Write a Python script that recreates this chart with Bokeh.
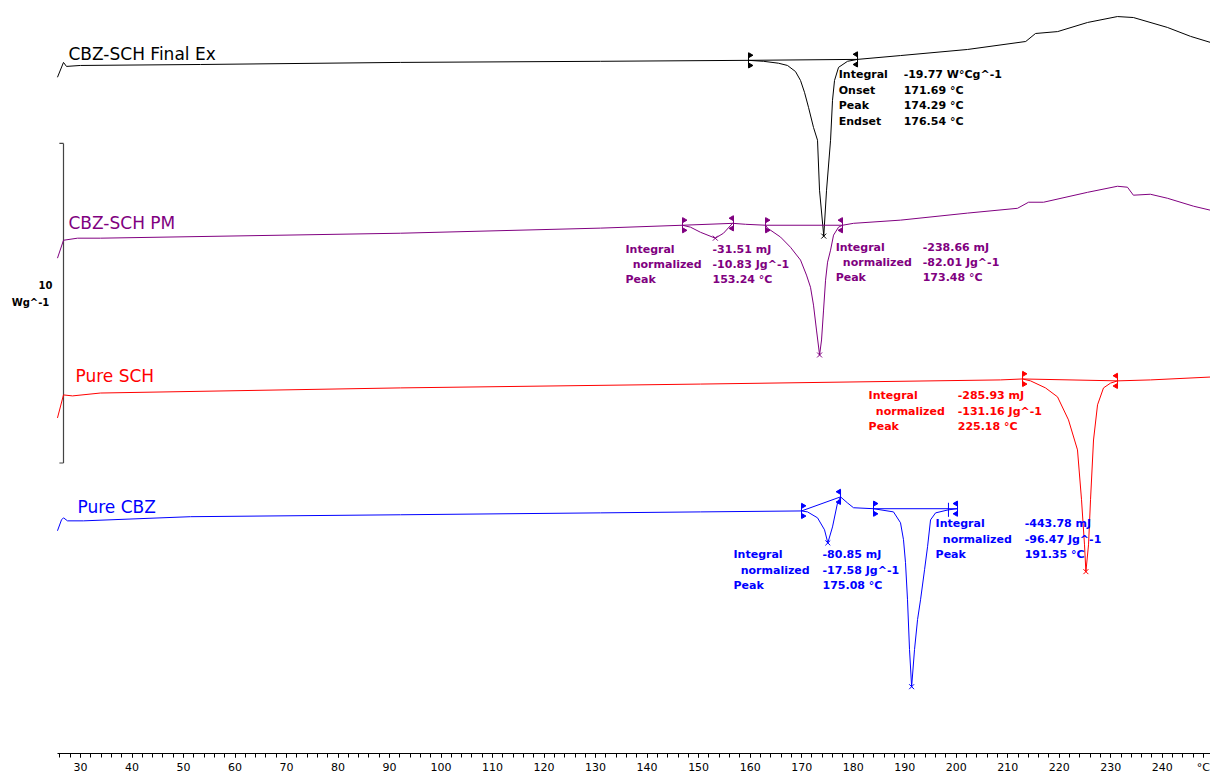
import math

from bokeh.core.properties import value
from bokeh.embed import file_html
from bokeh.models import FixedTicker, Range1d
from bokeh.plotting import figure
from bokeh.resources import INLINE

# ---------------------------------------------------------------------------
# DSC thermograms, stacked with vertical offsets (heat flow in W/g, exo up)
# ---------------------------------------------------------------------------
final_ex_temp = [25.53, 26.70, 27.28, 30.0, 53.3, 92.12, 130.95, 159.68, 162.6,
                 165.5, 167.25, 168.8, 169.78, 170.55, 171.33, 172.3, 173.08,
                 173.47, 174.29, 174.83, 175.61, 175.99, 176.38, 177.16, 178.9,
                 180.85, 189.2, 202.2, 213.5, 215.4, 219.7, 225.5, 231.3, 234.4,
                 241.0, 245.5, 249.37]
final_ex_flow = [21.16, 21.625, 21.5, 21.53, 21.56, 21.625, 21.66, 21.69, 21.66,
                 21.6, 21.53, 21.34, 21.06, 20.69, 20.22, 19.59, 19.19,
                 17.625, 16.19, 17.625, 19.19, 20.44, 21.06, 21.47, 21.66,
                 21.72, 21.84, 22.03, 22.28, 22.53, 22.59, 22.875, 23.06, 23.03,
                 22.72, 22.44, 22.25]

pm_temp = [25.53, 26.70, 29.42, 33.88, 92.12, 130.95, 146.87, 148.42, 150.36,
           153.24, 154.83, 156.58, 159.1, 162.99, 163.37, 165.9, 167.84, 169.78,
           170.94, 171.72, 172.3, 172.88, 173.48, 173.86, 174.25, 174.64, 175.03,
           175.61, 176.19, 177.16, 177.93, 180.07, 189.2, 202.2, 211.9, 214.05,
           216.96, 225.5, 231.3, 233.25, 234.4, 237.7, 241.0, 246.1, 249.37]
pm_flow = [15.5, 16.06, 16.125, 16.125, 16.28, 16.44, 16.53, 16.47, 16.31,
           16.125, 16.28, 16.59, 16.56, 16.53, 16.44, 16.16, 15.84, 15.44,
           14.97, 14.59, 14.03, 13.25, 12.47, 12.94, 13.875, 14.81, 15.375,
           15.75, 16.22, 16.47, 16.53, 16.59, 16.69, 16.91, 17.06, 17.25,
           17.25, 17.56, 17.75, 17.72, 17.47, 17.5, 17.375, 17.125, 17.0]

sch_temp = [25.53, 26.70, 28.45, 33.88, 92.12, 150.36, 208.6, 212.88, 214.43,
            217.34, 219.67, 221.8, 223.55, 224.33, 224.91, 225.18, 225.69,
            226.08, 226.66, 227.44, 228.6, 229.96, 231.32, 237.73, 249.37]
sch_flow = [10.5, 11.22, 11.19, 11.28, 11.44, 11.56, 11.69, 11.72, 11.66,
            11.44, 11.16, 10.44, 9.5, 7.94, 6.53, 5.69, 6.53,
            7.94, 9.81, 10.91, 11.44, 11.59, 11.66, 11.69, 11.78]

cbz_temp = [25.53, 26.31, 26.70, 27.48, 30.58, 51.36, 92.12, 130.95, 150.36,
            169.97, 171.14, 173.08, 174.44, 175.08, 175.99, 176.96, 177.55,
            178.9, 180.07, 183.95, 187.83, 189.19, 189.77, 190.16, 190.55,
            190.94, 191.35, 191.91, 192.5, 193.08, 193.86, 194.44, 195.02,
            196.0, 198.5, 200.26]
cbz_flow = [6.97, 7.31, 7.375, 7.28, 7.28, 7.41, 7.47, 7.53, 7.56,
            7.59, 7.56, 7.375, 7.0, 6.59, 7.09, 7.84, 8.03,
            7.84, 7.69, 7.66, 7.56, 7.22, 6.69, 5.97, 4.81,
            3.25, 2.09, 3.25, 4.19, 4.81, 5.75, 6.47, 7.31,
            7.53, 7.625, 7.66]

# curve names
names = ["CBZ-SCH Final Ex", "CBZ-SCH PM", "Pure SCH", "Pure CBZ"]
colors = ["#000000", "#800080", "#ff0000", "#0000ff"]

# integration limits (temperature, flow) per evaluated peak
final_ex_limits = [(159.68, 21.69), (180.85, 21.72)]
pm_limits_a = [(146.87, 16.53), (156.77, 16.59)]
pm_limits_b = [(162.99, 16.53), (177.93, 16.53)]
sch_limits = [(212.88, 11.72), (231.32, 11.66)]
cbz_limits_a = [(169.97, 7.59), (177.55, 8.03)]
cbz_limits_b = [(183.95, 7.66), (198.5, 7.625)]

# peak positions (temperature, flow)
final_ex_peak = (174.29, 16.19)
pm_peaks = [(153.24, 16.125), (173.48, 12.47)]
sch_peak = (225.18, 5.69)
cbz_peaks = [(175.08, 6.59), (191.35, 2.09)]

# evaluation results
final_ex_keys = ["Integral", "Onset", "Peak", "Endset"]
final_ex_vals = ["-19.77 W°Cg^-1", "171.69 °C", "174.29 °C", "176.54 °C"]
pm_vals_a = ["-31.51 mJ", "-10.83 Jg^-1", "153.24 °C"]
pm_vals_b = ["-238.66 mJ", "-82.01 Jg^-1", "173.48 °C"]
sch_vals = ["-285.93 mJ", "-131.16 Jg^-1", "225.18 °C"]
cbz_vals_a = ["-80.85 mJ", "-17.58 Jg^-1", "175.08 °C"]
cbz_vals_b = ["-443.78 mJ", "-96.47 Jg^-1", "191.35 °C"]
eval_keys = ["Integral", "normalized", "Peak"]

# temperature axis: labelled every 10 °C, minor marks every 2 °C, unit at end
major_ticks = list(range(30, 250, 10)) + [248]
minor_ticks = list(range(26, 250, 2))
unit_tick = 248

T_MIN, T_MAX = 14.47, 249.37
T_AXIS_START = 25.53
Y_MIN, Y_MAX = 0.0, 23.5625

FONT = value("DejaVu Sans")

p = figure(width=1210, height=776, output_backend="svg", toolbar_location=None,
           x_range=Range1d(T_MIN, T_MAX), y_range=Range1d(Y_MIN, Y_MAX),
           min_border_left=0, min_border_right=0, min_border_top=0,
           min_border_bottom=22, y_axis_location=None)
p.outline_line_color = None
p.grid.visible = False
p.background_fill_color = "white"
p.border_fill_color = "white"

ax = p.xaxis[0]
ax.ticker = FixedTicker(ticks=major_ticks, minor_ticks=minor_ticks)
ax.bounds = (T_AXIS_START, T_MAX)
ax.major_label_overrides = {unit_tick: "°C"}
ax.axis_line_color = "#000000"
ax.major_tick_in = 0
ax.major_tick_out = 4
ax.minor_tick_in = 0
ax.minor_tick_out = 4
ax.major_tick_line_color = "#000000"
ax.minor_tick_line_color = "#000000"
ax.major_label_text_font = "DejaVu Sans"
ax.major_label_text_font_size = "11px"
ax.major_label_text_color = "#000000"
ax.major_label_standoff = 3

# scale bar: 10 W/g
bar_x, bar_top, bar_bot = 26.7, 19.09, 9.09
p.segment(x0=[bar_x, bar_x - 0.8, bar_x - 0.8], y0=[bar_bot, bar_top, bar_bot],
          x1=[bar_x, bar_x, bar_x], y1=[bar_top, bar_top, bar_bot],
          line_color="#444444", line_width=1.2)
p.text(x=[23.2, 20.29], y=[14.66, 14.125], text=["10", "Wg^-1"],
       text_font=FONT, text_font_size="10px", text_font_style="bold",
       text_color="#000000", text_align="center", text_baseline="middle")

curves = [(final_ex_temp, final_ex_flow), (pm_temp, pm_flow),
          (sch_temp, sch_flow), (cbz_temp, cbz_flow)]
for (t, f), c in zip(curves, colors):
    p.line(t, f, line_color=c, line_width=1)

# curve names
name_pos = [(27.67, 21.875), (27.67, 16.59), (29.03, 11.81), (29.42, 7.72)]
for n, (x, y), c in zip(names, name_pos, colors):
    p.text(x=[x], y=[y], text=[n], text_font=FONT, text_font_size="17px",
           text_color=c, text_align="left", text_baseline="middle")


def limits(pair, color):
    (t0, y0), (t1, y1) = pair
    p.line([t0, t1], [y0, y1], line_color=color, line_width=1)
    h, d = 0.22, 0.16
    p.segment(x0=[t0, t1], y0=[y0 - h, y1 - h], x1=[t0, t1], y1=[y0 + h, y1 + h],
              line_color=color, line_width=1)
    p.scatter([t0 + 0.3, t0 + 0.3], [y0 + d, y0 - d], marker="triangle",
              angle=-math.pi / 2, size=5, color=color)
    p.scatter([t1 - 0.3, t1 - 0.3], [y1 + d, y1 - d], marker="triangle",
              angle=math.pi / 2, size=5, color=color)


def peak_mark(pt, color):
    p.scatter([pt[0]], [pt[1]], marker="x", size=7, line_color=color,
              line_width=1)


def results(keys, vals, kx, vx, y0, color, step=0.485, indent=1.4):
    xs = [kx + (indent if k == "normalized" else 0) for k in keys]
    ys = [y0 - i * step for i in range(len(keys))]
    p.text(x=xs, y=ys, text=keys, text_font=FONT, text_font_size="11px",
           text_font_style="bold", text_color=color, text_align="left",
           text_baseline="middle")
    p.text(x=[vx] * len(vals), y=ys, text=vals, text_font=FONT,
           text_font_size="11px", text_font_style="bold", text_color=color,
           text_align="left", text_baseline="middle")


blk, pur, red, blu = colors

limits(final_ex_limits, blk)
peak_mark(final_ex_peak, blk)
results(final_ex_keys, final_ex_vals, 177.2, 189.8, 21.25, blk, step=0.49)

limits(pm_limits_a, pur)
limits(pm_limits_b, pur)
for pk in pm_peaks:
    peak_mark(pk, pur)
results(eval_keys, pm_vals_a, 135.8, 152.7, 15.78, pur, step=0.47)
results(eval_keys, pm_vals_b, 176.6, 193.5, 15.84, pur, step=0.465)

limits(sch_limits, red)
peak_mark(sch_peak, red)
results(eval_keys, sch_vals, 183.0, 200.3, 11.19, red, step=0.485)

limits(cbz_limits_a, blu)
limits([cbz_limits_b[0], (200.26, 7.66)], blu)
p.segment(x0=[cbz_limits_b[1][0]], y0=[cbz_limits_b[1][1] - 0.22],
          x1=[cbz_limits_b[1][0]], y1=[cbz_limits_b[1][1] + 0.22],
          line_color=blu)
for pk in cbz_peaks:
    peak_mark(pk, blu)
results(eval_keys, cbz_vals_a, 156.77, 174.05, 6.22, blu, step=0.485)
results(eval_keys, cbz_vals_b, 196.0, 213.3, 7.19, blu, step=0.485)

open("out.html", "w").write(file_html(p, INLINE))
